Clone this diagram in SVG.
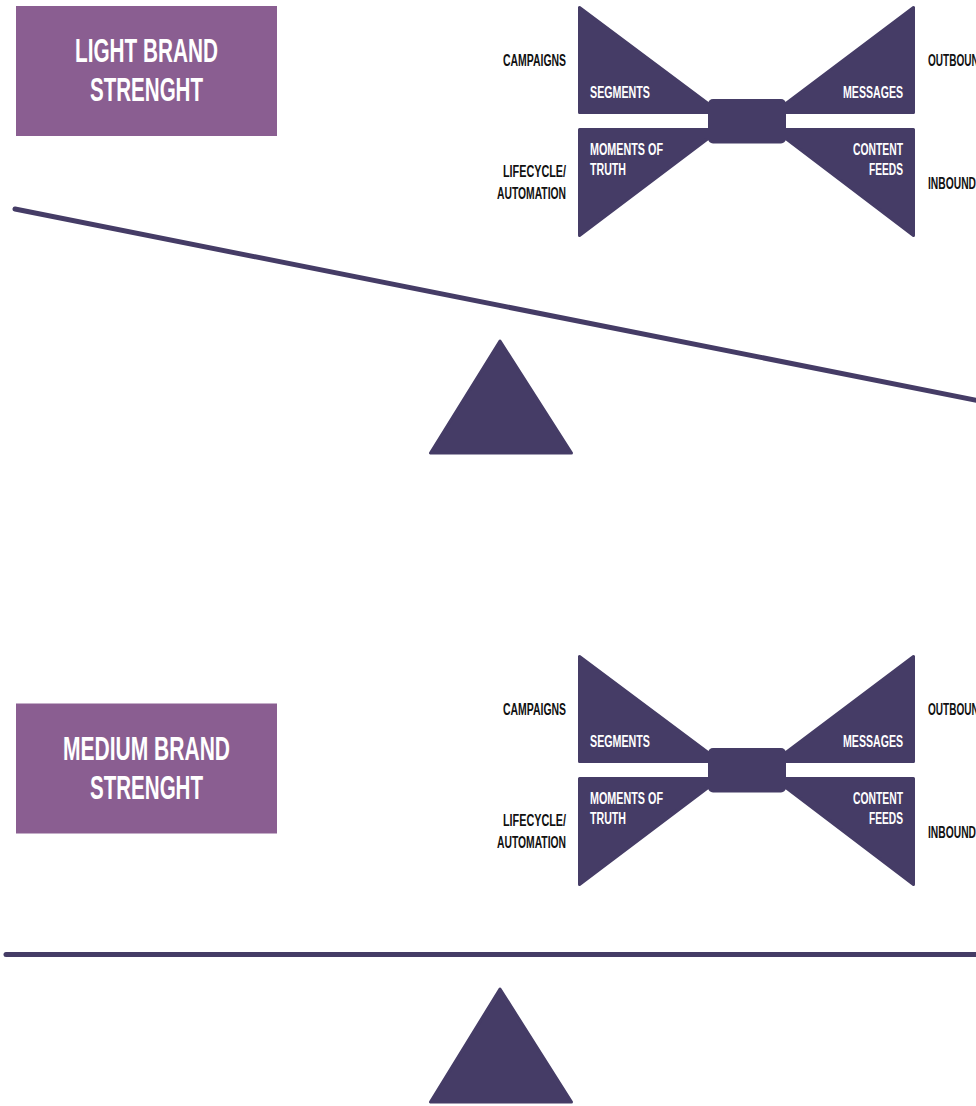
<svg xmlns="http://www.w3.org/2000/svg" width="976" height="1106" viewBox="0 0 976 1106">
  <defs>
    <style>
      .bg { fill: #ffffff; }
      .box { fill: #8a5e91; }
      .ink { fill: #453c66; stroke: #453c66; stroke-width: 3; stroke-linejoin: round; }
      .hub { fill: #453c66; }
      .beam { stroke: #453c66; stroke-width: 5; stroke-linecap: round; fill: none; }
      .title { font-family: "Liberation Sans", Arial, sans-serif; font-weight: bold; font-size: 34px; fill: #ffffff; }
      .in { font-family: "Liberation Sans", Arial, sans-serif; font-weight: bold; font-size: 16px; fill: #ffffff; }
      .out { font-family: "Liberation Sans", Arial, sans-serif; font-weight: bold; font-size: 16px; fill: #111111; }
    </style>
    <!-- bow-tie model: four triangles around a hub, with labels -->
    <g id="bowtie">
      <polygon class="ink" points="579.5,7.5 579.5,112.5 720,112.5"/>
      <polygon class="ink" points="579.5,129.5 579.5,235.5 720,129.5"/>
      <polygon class="ink" points="913.5,7.5 913.5,112.5 774,112.5"/>
      <polygon class="ink" points="913.5,129.5 913.5,235.5 774,129.5"/>
      <rect class="hub" x="708" y="99" width="78" height="44.5" rx="5"/>
      <text class="in" x="590" y="98" textLength="60" lengthAdjust="spacingAndGlyphs">SEGMENTS</text>
      <text class="in" x="843" y="98" textLength="60" lengthAdjust="spacingAndGlyphs">MESSAGES</text>
      <text class="in" x="590" y="155" textLength="73" lengthAdjust="spacingAndGlyphs">MOMENTS OF</text>
      <text class="in" x="590" y="175" textLength="36" lengthAdjust="spacingAndGlyphs">TRUTH</text>
      <text class="in" x="853" y="155" textLength="50" lengthAdjust="spacingAndGlyphs">CONTENT</text>
      <text class="in" x="869" y="175" textLength="34" lengthAdjust="spacingAndGlyphs">FEEDS</text>
      <text class="out" x="503" y="66" textLength="63" lengthAdjust="spacingAndGlyphs">CAMPAIGNS</text>
      <text class="out" x="503" y="177" textLength="63" lengthAdjust="spacingAndGlyphs">LIFECYCLE/</text>
      <text class="out" x="497" y="199" textLength="69" lengthAdjust="spacingAndGlyphs">AUTOMATION</text>
      <text class="out" x="928" y="66" textLength="58" lengthAdjust="spacingAndGlyphs">OUTBOUND</text>
      <text class="out" x="928" y="188.5" textLength="48" lengthAdjust="spacingAndGlyphs">INBOUND</text>
    </g>
  </defs>

  <rect class="bg" x="0" y="0" width="976" height="1106"/>

  <!-- light brand strength -->
  <g id="light-label">
    <rect class="box" x="16" y="6" width="261" height="130"/>
    <text class="title" x="75" y="62" textLength="143" lengthAdjust="spacingAndGlyphs">LIGHT BRAND</text>
    <text class="title" x="90" y="101" textLength="113" lengthAdjust="spacingAndGlyphs">STRENGHT</text>
  </g>
  <g id="light-bowtie">
    <use href="#bowtie"/>
  </g>
  <g id="light-fulcrum">
    <polygon class="ink" points="500,341 430.5,453 571.5,453"/>
  </g>

  <!-- medium brand strength -->
  <g id="medium-label">
    <rect class="box" x="16" y="703.5" width="261" height="130"/>
    <text class="title" x="63" y="760" textLength="167" lengthAdjust="spacingAndGlyphs">MEDIUM BRAND</text>
    <text class="title" x="90" y="799" textLength="113" lengthAdjust="spacingAndGlyphs">STRENGHT</text>
  </g>
  <g id="medium-bowtie">
    <use href="#bowtie" transform="translate(0,649)"/>
  </g>
  <g id="medium-fulcrum">
    <polygon class="ink" points="500,989 430.5,1102 571.5,1102"/>
  </g>

  <!-- seesaw beams -->
  <g id="connectors">
    <line class="beam" x1="15" y1="209" x2="990" y2="403"/>
    <line class="beam" x1="6" y1="954.5" x2="990" y2="954.5"/>
  </g>
</svg>
